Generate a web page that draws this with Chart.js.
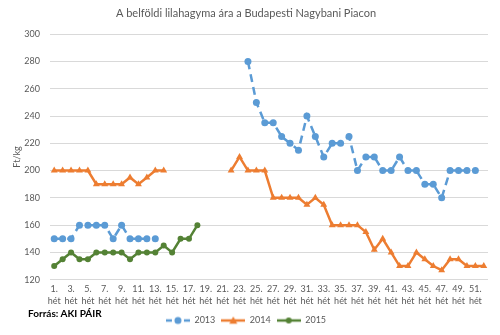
<!DOCTYPE html>
<html>
<head>
<meta charset="utf-8">
<script src="https://cdn.jsdelivr.net/npm/chart.js@4/dist/chart.umd.min.js"></script>
<style>
    body { margin: 0; background: #fff; }
    #wrap { position: relative; width: 500px; height: 335px; }
    #source {
        position: absolute; left: 28px; top: 307px;
        font: bold 10px Lato, sans-serif; color: #000;
    }
</style>
</head>
<body>
<div id="wrap">
    <canvas id="chart" width="500" height="335"></canvas>
    <div id="source">Forrás: AKI PÁIR</div>
</div>
<script>
// Weekly prices (Ft/kg), one value per week, null where no quote
const weeks = Array.from({ length: 52 }, (_, i) => `${i + 1}. hét`);

const prices2013 = [
    150, 150, 150, 160, 160, 160, 160, 150, 160, 150, 150, 150, 150,
    null, null, null, null, null, null, null, null, null, null,
    280, 250, 235, 235, 225, 220, 215, 240, 225, 210, 220, 220, 225,
    200, 210, 210, 200, 200, 210, 200, 200, 190, 190, 180, 200, 200, 200, 200,
    null
];

const prices2014 = [
    200, 200, 200, 200, 200, 190, 190, 190, 190, 195, 190, 195, 200, 200,
    null, null, null, null, null, null, null,
    200, 210, 200, 200, 200, 180, 180, 180, 180, 175, 180, 175,
    160, 160, 160, 160, 155, 142, 150, 140, 130, 130, 140, 135, 130, 127,
    135, 135, 130, 130, 130
];

const prices2015 = [
    130, 135, 140, 135, 135, 140, 140, 140, 140, 135, 140, 140, 140, 145, 140, 150, 150, 160,
    null, null, null, null, null, null, null, null, null, null, null, null, null, null, null, null, null,
    null, null, null, null, null, null, null, null, null, null, null, null, null, null, null, null, null
];

const seriesNames = ['2013', '2014', '2015'];
const yTicks = { min: 120, max: 300, step: 20 };

const BLUE = '#5b9bd5';
const ORANGE = '#ed7d31';
const GREEN = '#548235';
const GREY_TEXT = '#595959';
const FONT = 'Lato, "Open Sans", sans-serif';

/**
 * Build a small legend icon: a line with the marker in the middle
 */
function legendIcon(color, dash, marker, r) {
    const c = document.createElement('canvas');
    c.width = 24;
    c.height = 10;
    const g = c.getContext('2d');
    g.strokeStyle = color;
    g.lineWidth = 2.5;
    g.setLineDash(dash);
    g.beginPath();
    g.moveTo(0, 5);
    g.lineTo(24, 5);
    g.stroke();
    g.setLineDash([]);
    g.fillStyle = color;
    g.beginPath();
    if (marker === 'triangle') {
        g.moveTo(12, 5 - r);
        g.lineTo(12 + r, 5 + r * 0.8);
        g.lineTo(12 - r, 5 + r * 0.8);
        g.closePath();
    } else {
        g.arc(12, 5, r, 0, Math.PI * 2);
    }
    g.fill();
    return c;
}

const legendIcons = [
    legendIcon(BLUE, [6, 3], 'circle', 3.5),
    legendIcon(ORANGE, [], 'triangle', 4),
    legendIcon(GREEN, [], 'circle', 3)
];

new Chart(document.getElementById('chart'), {
    type: 'line',
    data: {
        labels: weeks,
        datasets: [
            {
                label: seriesNames[0],
                data: prices2013,
                borderColor: BLUE,
                backgroundColor: BLUE,
                borderWidth: 2.5,
                borderDash: [8, 5],
                pointStyle: 'circle',
                pointRadius: 3.5,
                pointBorderWidth: 0
            },
            {
                label: seriesNames[1],
                data: prices2014,
                borderColor: ORANGE,
                backgroundColor: ORANGE,
                borderWidth: 2.5,
                pointStyle: 'triangle',
                pointRadius: 4,
                pointBorderWidth: 0
            },
            {
                label: seriesNames[2],
                data: prices2015,
                borderColor: GREEN,
                backgroundColor: GREEN,
                borderWidth: 2.5,
                pointStyle: 'circle',
                pointRadius: 3,
                pointBorderWidth: 0
            }
        ]
    },
    options: {
        responsive: false,
        animation: false,
        layout: { padding: { left: 4, right: 12, top: 0, bottom: 0 } },
        plugins: {
            title: {
                display: true,
                text: 'A belföldi lilahagyma ára a Budapesti Nagybani Piacon',
                color: GREY_TEXT,
                font: { family: FONT, size: 11, weight: 'normal' },
                padding: { top: 7, bottom: 14 }
            },
            legend: {
                position: 'bottom',
                labels: {
                    usePointStyle: true,
                    pointStyleWidth: 24,
                    padding: 6,
                    color: GREY_TEXT,
                    font: { family: FONT, size: 9 },
                    generateLabels: (chart) => {
                        const items = Chart.defaults.plugins.legend.labels.generateLabels(chart);
                        items.forEach((item, i) => { item.pointStyle = legendIcons[i]; });
                        return items;
                    }
                }
            },
            tooltip: { enabled: false }
        },
        scales: {
            x: {
                offset: true,
                grid: { display: false, drawTicks: false },
                border: { display: false },
                ticks: {
                    autoSkip: false,
                    maxRotation: 0,
                    padding: 3,
                    color: GREY_TEXT,
                    font: { family: FONT, size: 9, lineHeight: 1.35 },
                    callback: function (value, index) {
                        return index % 2 === 0 ? this.getLabelForValue(value).split(' ') : null;
                    }
                }
            },
            y: {
                min: yTicks.min,
                max: yTicks.max,
                grid: { color: '#d9d9d9', drawTicks: false },
                border: { display: false },
                ticks: {
                    stepSize: yTicks.step,
                    padding: 10,
                    color: GREY_TEXT,
                    font: { family: FONT, size: 9 }
                },
                title: {
                    display: true,
                    text: 'Ft/kg',
                    color: GREY_TEXT,
                    font: { family: FONT, size: 9 },
                    padding: { top: 8, bottom: 0 }
                },
                afterFit: (scale) => { scale.width = 46; }
            }
        }
    }
});
</script>
</body>
</html>
